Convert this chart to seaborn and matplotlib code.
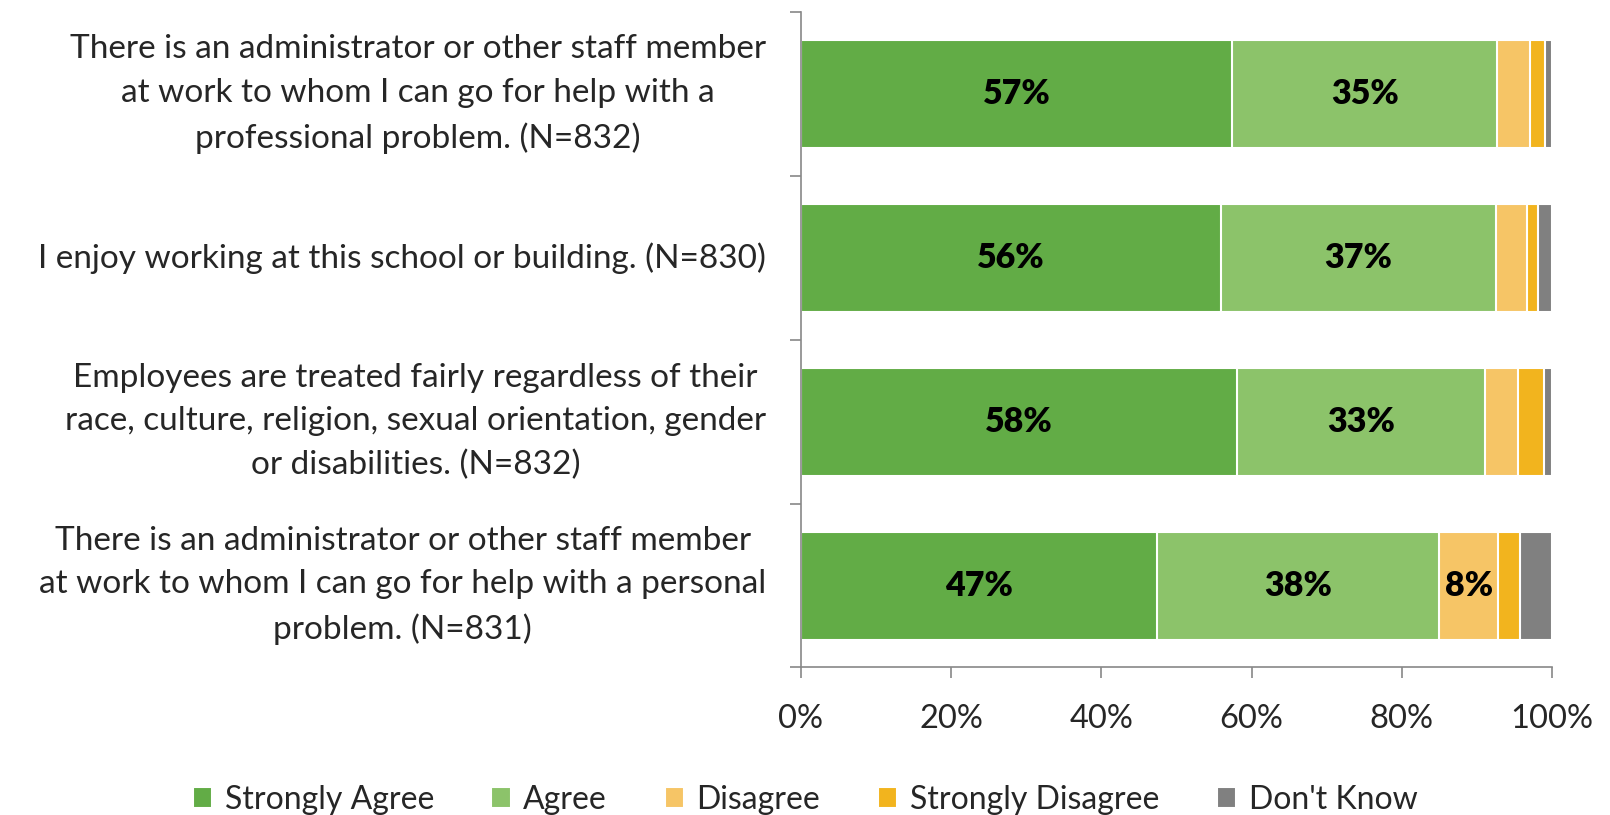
import pandas as pd
import matplotlib.pyplot as plt
import seaborn as sns

questions = [
    'There is an administrator or other staff member\nat work to whom I can go for help with a\nprofessional problem. (N=832)',
    'I enjoy working at this school or building. (N=830)',
    'Employees are treated fairly regardless of their\nrace, culture, religion, sexual orientation, gender\nor disabilities. (N=832)',
    'There is an administrator or other staff member\nat work to whom I can go for help with a personal\nproblem. (N=831)',
]
responses = ['Strongly Agree', 'Agree', 'Disagree', 'Strongly Disagree', "Don't Know"]
strongly_agree = [57.4, 55.9, 58.0, 47.4]
agree = [35.3, 36.6, 33.1, 37.6]
disagree = [4.4, 4.1, 4.4, 7.8]
strongly_disagree = [1.9, 1.5, 3.4, 2.9]
dont_know = [1.0, 1.9, 1.1, 4.3]
colors = ['#62AC46', '#8CC36A', '#F6C566', '#F2B41E', '#808080']

sns.set_style('white')
plt.rcParams['font.family'] = ['Lato', 'DejaVu Sans']

df = pd.DataFrame({'question': questions, 'Strongly Agree': strongly_agree, 'Agree': agree,
                   'Disagree': disagree, 'Strongly Disagree': strongly_disagree,
                   "Don't Know": dont_know})
cum = df[responses].cumsum(axis=1)

fig, ax = plt.subplots(figsize=(16.1, 8.15), dpi=100)
fig.subplots_adjust(left=0.4975, right=0.964, top=0.985, bottom=0.181)

# layered cumulative bars, widest first
for resp, col in reversed(list(zip(responses, colors))):
    sns.barplot(x=cum[resp], y=df['question'], color=col, orient='h', width=0.66,
                saturation=1, edgecolor='white', linewidth=1.5, ax=ax, label=resp)

for i, row in df.iterrows():
    left = 0
    for resp in responses:
        v = row[resp]
        if v >= 5:
            ax.text(left + v / 2, i, f'{v:.0f}%', ha='center', va='center',
                    fontsize=24.5, fontweight='heavy', color='black')
        left += v

ax.set_xlim(0, 100)
ax.set_ylim(3.5, -0.5)
ax.set_xticks([0, 20, 40, 60, 80, 100])
ax.set_xticklabels(['0%', '20%', '40%', '60%', '80%', '100%'], fontsize=23.5)
ax.set_xlabel('')
ax.set_ylabel('')
ax.tick_params(axis='y', length=0, pad=25, labelsize=24)
for lab in ax.get_yticklabels():
    lab.set_multialignment('center')
    lab.set_linespacing(1.56)
    lab.set_verticalalignment('center')
ax.set_yticks([-0.5, 0.5, 1.5, 2.5, 3.5], minor=True)
ax.tick_params(axis='y', which='minor', length=8, color='#888888', width=1.2, direction='out', left=True)
ax.tick_params(axis='x', length=8, color='#888888', width=1.2, direction='out', bottom=True, pad=18)
for s in ['top', 'right']:
    ax.spines[s].set_visible(False)
for s in ['left', 'bottom']:
    ax.spines[s].set_color('#888888')
    ax.spines[s].set_linewidth(1.2)

handles, labels = ax.get_legend_handles_labels()
if ax.get_legend() is not None:
    ax.get_legend().remove()
order = [labels.index(r) for r in responses]
fig.legend([handles[k] for k in order], responses, loc='lower center',
           bbox_to_anchor=(0.5, -0.035), ncol=5, frameon=False, fontsize=23,
           handlelength=0.6, handleheight=0.6, handletextpad=0.4, columnspacing=1.8)

fig.savefig('out.png', dpi=100)
